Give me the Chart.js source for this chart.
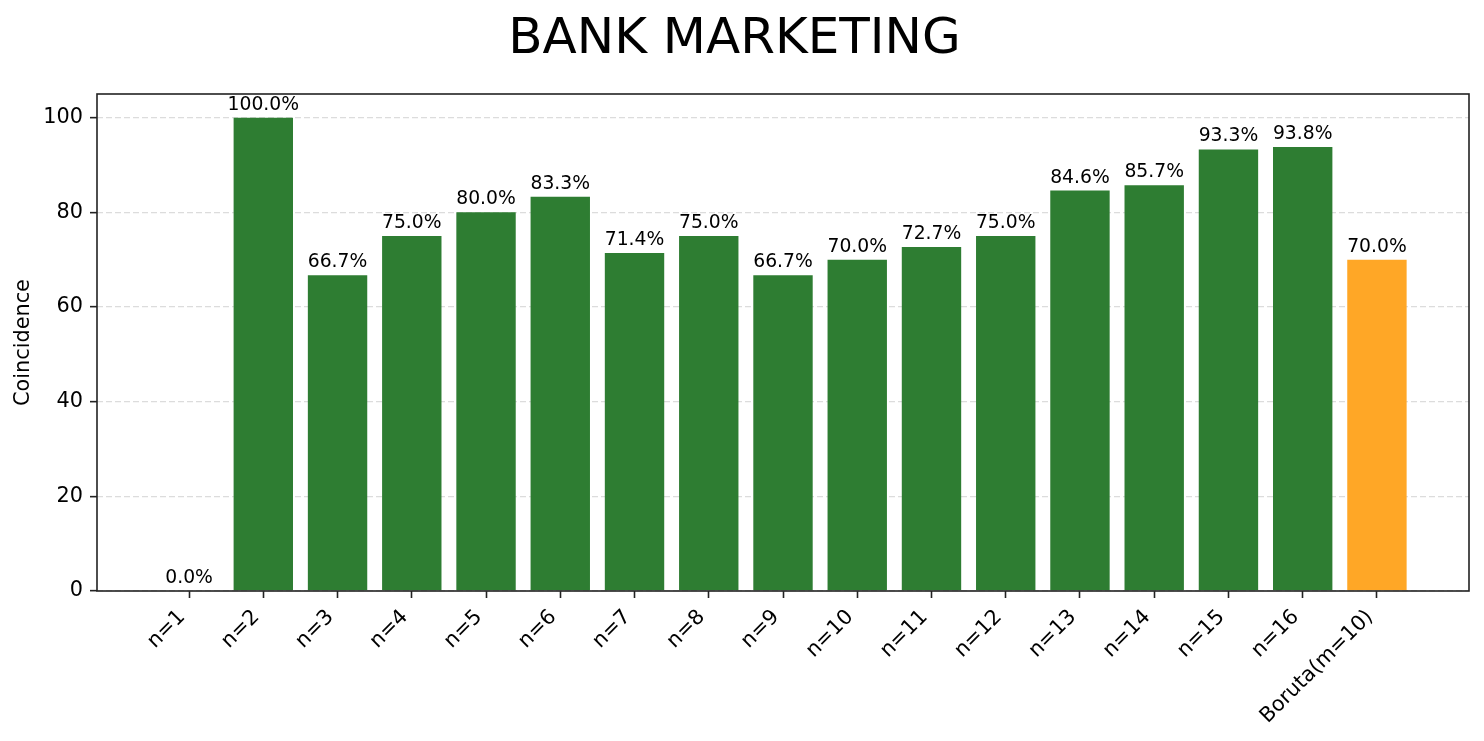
<!DOCTYPE html>
<html>
<head>
<meta charset="utf-8">
<script src="https://cdn.jsdelivr.net/npm/chart.js@4/dist/chart.umd.min.js"></script>
<style>
  html, body { margin: 0; padding: 0; background: #ffffff; }
  #wrap { width: 1484px; height: 741px; }
</style>
</head>
<body>
<div id="wrap"><canvas id="chart" width="1484" height="741"></canvas></div>
<script>
const categories = ["n=1", "n=2", "n=3", "n=4", "n=5", "n=6", "n=7", "n=8", "n=9",
    "n=10", "n=11", "n=12", "n=13", "n=14", "n=15", "n=16", "Boruta(m=10)"];
const coincidence = [0.0, 100.0, 66.7, 75.0, 80.0, 83.3, 71.4, 75.0, 66.7,
    70.0, 72.7, 75.0, 84.6, 85.7, 93.3, 93.8, 70.0];
const yTicks = [0, 20, 40, 60, 80, 100];

const GREEN = "#2e7d32";
const ORANGE = "#ffa726";
const FONT = "'DejaVu Sans', sans-serif";

const barColors = categories.map((c) => (c.startsWith("Boruta") ? ORANGE : GREEN));

// percent labels over the bars
const valueLabels = {
    id: "valueLabels",
    afterDatasetsDraw(chart) {
        const ctx = chart.ctx;
        const meta = chart.getDatasetMeta(0);
        ctx.save();
        ctx.fillStyle = "#000000";
        ctx.font = "18.75px " + FONT;
        ctx.textAlign = "center";
        ctx.textBaseline = "alphabetic";
        meta.data.forEach((bar, i) => {
            ctx.fillText(coincidence[i].toFixed(1) + "%", bar.x, bar.y - 8);
        });
        ctx.restore();
    },
};

// axes box like matplotlib spines
const frame = {
    id: "frame",
    afterDraw(chart) {
        const a = chart.chartArea;
        const ctx = chart.ctx;
        ctx.save();
        ctx.strokeStyle = "#222222";
        ctx.lineWidth = 1.6;
        ctx.strokeRect(a.left, a.top, a.right - a.left, a.bottom - a.top);
        ctx.restore();
    },
};

new Chart(document.getElementById("chart"), {
    type: "bar",
    data: {
        datasets: [
            {
                data: coincidence.map((v, i) => ({ x: i, y: v })),
                backgroundColor: barColors,
                barPercentage: 0.8,
                categoryPercentage: 1.0,
            },
        ],
    },
    options: {
        responsive: false,
        animation: false,
        layout: { padding: { left: 0, right: 15, top: 0, bottom: 0 } },
        plugins: {
            legend: { display: false },
            tooltip: { enabled: false },
            title: {
                display: true,
                text: "BANK MARKETING",
                color: "#000000",
                font: { family: FONT, size: 50, weight: "normal", lineHeight: 1.2 },
                padding: { top: 10, bottom: 24 },
            },
        },
        scales: {
            x: {
                type: "linear",
                min: -1.24,
                max: 17.24,
                offset: false,
                afterBuildTicks(scale) {
                    scale.ticks = categories.map((_, i) => ({ value: i }));
                },
                afterFit(scale) {
                    scale.height = 150;
                },
                grid: {
                    offset: false,
                    drawOnChartArea: false,
                    drawTicks: true,
                    tickLength: 7,
                    tickColor: "#222222",
                    tickWidth: 1.6,
                },
                border: { display: false },
                ticks: {
                    autoSkip: false,
                    minRotation: 45,
                    maxRotation: 45,
                    padding: 7,
                    labelOffset: -7,
                    color: "#000000",
                    font: { family: FONT, size: 20.8 },
                    callback: (value) => categories[value],
                },
            },
            y: {
                min: 0,
                max: 105,
                afterBuildTicks(scale) {
                    scale.ticks = yTicks.map((v) => ({ value: v }));
                },
                afterFit(scale) {
                    scale.width = 97;
                },
                grid: {
                    color: "#dcdcdc",
                    lineWidth: 1.3,
                    drawTicks: true,
                    tickLength: 7,
                    tickColor: "#222222",
                    tickWidth: 1.6,
                    tickBorderDash: [],
                },
                border: { display: false, dash: [6, 3] },
                ticks: {
                    padding: 7,
                    color: "#000000",
                    font: { family: FONT, size: 20.8 },
                },
                title: {
                    display: true,
                    text: "Coincidence",
                    color: "#000000",
                    font: { family: FONT, size: 20.8, lineHeight: 1.2 },
                    padding: { top: 11, bottom: 0 },
                },
            },
        },
    },
    plugins: [valueLabels, frame],
});
</script>
</body>
</html>
